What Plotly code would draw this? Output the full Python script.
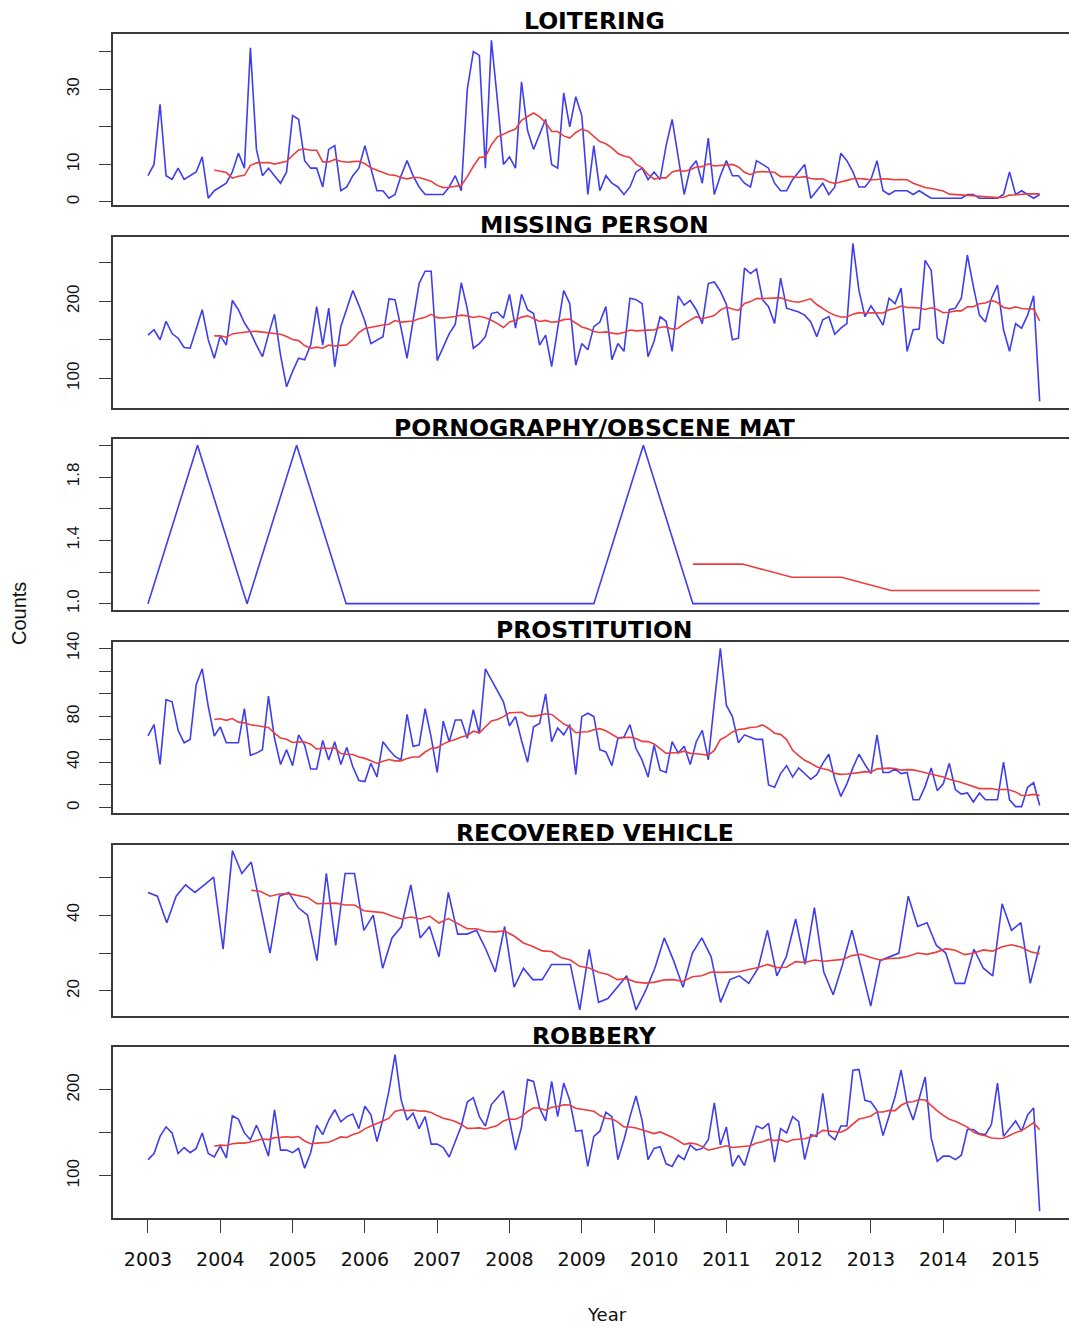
import numpy as np
import pandas as pd
import plotly.graph_objects as go

# Monthly/periodic incident counts per category, Jan 2003 - May 2015
START, END = 2003.0, 2015 + 4 / 12

loitering = [
    7, 10, 26, 7, 6, 9, 6, 7, 8, 12, 1, 3,
    4, 5, 8, 13, 9, 41, 14, 7, 9, 7, 5, 8,
    23, 22, 11, 9, 9, 4, 14, 15, 3, 4, 7, 9,
    15, 9, 3, 3, 1, 2, 7, 11, 7, 4, 2, 2,
    2, 2, 4, 7, 3, 30, 40, 39, 9, 43, 27, 10,
    12, 9, 32, 19, 14, 18, 22, 10, 9, 29, 20, 28,
    23, 2, 15, 3, 7, 5, 4, 2, 4, 8, 9, 6,
    8, 6, 15, 22, 12, 2, 9, 11, 5, 17, 2, 7,
    11, 7, 7, 5, 4, 11, 10, 9, 5, 3, 3, 6,
    8, 10, 1, 3, 5, 2, 4, 13, 11, 8, 4, 4,
    6, 11, 3, 2, 3, 3, 3, 2, 3, 2, 1, 1,
    1, 1, 1, 1, 2, 2, 1, 1, 1, 1, 2, 8,
    2, 3, 2, 1, 2,
]

missing_person = [
    156, 163, 150, 174, 158, 152, 140, 139, 164, 189, 150, 126,
    155, 143, 201, 189, 172, 160, 143, 128, 157, 183, 130, 89,
    109, 126, 124, 143, 193, 143, 191, 115, 167, 190, 214, 195,
    174, 145, 150, 154, 203, 202, 165, 126, 175, 223, 239, 239,
    123, 140, 158, 170, 224, 190, 139, 145, 154, 184, 186, 178,
    209, 165, 209, 189, 184, 143, 156, 115, 165, 214, 197, 117,
    145, 137, 167, 173, 193, 124, 145, 135, 204, 202, 197, 128,
    148, 180, 174, 135, 207, 195, 201, 189, 171, 223, 225, 213,
    196, 150, 152, 243, 236, 242, 202, 193, 171, 230, 191, 189,
    186, 182, 173, 154, 176, 180, 157, 165, 171, 275, 214, 180,
    194, 182, 169, 204, 197, 217, 135, 163, 164, 253, 240, 152,
    145, 189, 191, 204, 260, 219, 182, 173, 204, 221, 163, 135,
    171, 165, 182, 207, 70,
]

pornography = [1, 2, 1, 2, 1, 1, 1, 1, 1, 1, 2, 1, 1, 1, 1, 1, 1, 1, 1]

prostitution = [
    63, 73, 38, 95, 93, 68, 57, 60, 108, 122, 89, 63,
    71, 57, 57, 57, 87, 46, 48, 51, 98, 61, 38, 51,
    37, 64, 55, 34, 34, 59, 42, 58, 38, 53, 36, 24,
    23, 39, 27, 58, 51, 45, 42, 82, 54, 55, 87, 62,
    31, 76, 58, 77, 77, 61, 86, 65, 122, 112, 102, 93,
    72, 80, 59, 40, 71, 74, 100, 58, 70, 64, 73, 29,
    80, 83, 80, 51, 49, 37, 61, 62, 73, 52, 42, 27,
    55, 33, 31, 58, 48, 54, 38, 58, 68, 42, 92, 140,
    90, 80, 57, 64, 62, 60, 60, 20, 18, 30, 37, 27,
    35, 30, 25, 29, 39, 47, 25, 10, 21, 35, 47, 38,
    30, 64, 31, 31, 34, 30, 31, 7, 7, 19, 35, 15,
    21, 39, 16, 12, 13, 5, 13, 7, 7, 7, 40, 7,
    1, 1, 18, 22, 2,
]

recovered_vehicle = [
    46, 45, 38, 45, 48, 46, 48, 50, 31, 57, 51, 54,
    42, 30, 45, 46, 42, 40, 28, 51, 32, 51, 51, 36,
    40, 26, 34, 37, 48, 34, 37, 29, 46, 35, 35, 36,
    31, 25, 37, 21, 26, 23, 23, 27, 27, 27, 15, 31,
    17, 18, 21, 24, 15, 20, 26, 34, 28, 21, 30, 34,
    29, 17, 23, 24, 22, 26, 36, 24, 29, 39, 27, 42,
    25, 19, 27, 36, 26, 16, 28, 29, 30, 45, 37, 38,
    32, 30, 22, 22, 31, 26, 24, 43, 36, 38, 22, 32,
]

robbery = [
    119, 126, 146, 157, 150, 126, 133, 127, 132, 150, 126, 122,
    135, 121, 170, 166, 150, 142, 159, 143, 123, 177, 130, 130,
    127, 132, 109, 127, 159, 148, 165, 177, 163, 169, 172, 155,
    181, 171, 140, 166, 199, 241, 189, 165, 173, 155, 169, 137,
    137, 133, 122, 140, 158, 186, 191, 169, 158, 183, 191, 199,
    165, 130, 157, 212, 210, 179, 164, 210, 169, 208, 188, 152,
    153, 111, 146, 152, 174, 169, 119, 142, 169, 193, 165, 119,
    132, 134, 114, 111, 124, 119, 136, 130, 132, 142, 185, 136,
    157, 111, 124, 112, 136, 158, 155, 161, 116, 155, 150, 169,
    163, 119, 148, 146, 196, 148, 142, 158, 158, 223, 224, 188,
    186, 176, 147, 169, 192, 223, 184, 165, 190, 215, 144, 117,
    123, 123, 119, 124, 154, 154, 149, 148, 160, 208, 146, 155,
    164, 152, 171, 179, 59,
]

titles = ["LOITERING", "MISSING PERSON", "PORNOGRAPHY/OBSCENE MAT",
          "PROSTITUTION", "RECOVERED VEHICLE", "ROBBERY"]
series = [loitering, missing_person, pornography,
          prostitution, recovered_vehicle, robbery]

y_ticks = [
    [0, 10, 20, 30, 40],
    [100, 150, 200, 250],
    [1.0, 1.2, 1.4, 1.6, 1.8, 2.0],
    [0, 20, 40, 60, 80, 100, 120, 140],
    [20, 30, 40, 50],
    [100, 150, 200],
]
y_tick_text = [
    ["0", "10", "", "30", ""],
    ["100", "", "200", ""],
    ["1.0", "", "1.4", "", "1.8", ""],
    ["0", "", "40", "", "80", "", "", "140"],
    ["20", "", "40", ""],
    ["100", "", "200"],
]
year_ticks = list(range(2003, 2016))

# ---- layout geometry (pixels on a 1069 x 1327 page) ----
W, H = 1069, 1327
LEFT_PX = 113
panel_px = [(34, 205), (237, 408), (439, 610), (642, 813), (845, 1016), (1047, 1218)]
title_px = [21, 225, 428, 629.5, 833, 1035.5]
y_ranges = [(-0.8, 44.7), (61.4, 283.4), (0.96, 2.04),
            (-4.6, 145.5), (13.4, 58.5), (51, 250)]
x_range = (2002.516, 2015.739)

BLUE = "rgb(62,62,238)"
RED = "rgb(236,62,62)"
FRAME = "#3a3a3a"
SANS = "Liberation Sans, Arial, Helvetica, sans-serif"
WIDE = "DejaVu Sans, Verdana, sans-serif"

fig = go.Figure()
layout = dict(
    width=W, height=H,
    margin=dict(l=0, r=0, t=0, b=0, autoexpand=False),
    paper_bgcolor="white", plot_bgcolor="white",
    showlegend=False,
    font=dict(family=SANS, color="black"),
)
annotations = []

for k, (name, vals) in enumerate(zip(titles, series)):
    n = k + 1
    xs = np.linspace(START, END, len(vals))
    # trailing 12-point moving average
    avg = pd.Series(vals, dtype=float).rolling(12).mean()
    xname = "x" if n == 1 else f"x{n}"
    yname = "y" if n == 1 else f"y{n}"

    fig.add_trace(go.Scatter(x=xs, y=vals, mode="lines",
                             line=dict(color=BLUE, width=1.6),
                             xaxis=xname, yaxis=yname, hoverinfo="skip"))
    fig.add_trace(go.Scatter(x=xs[11:], y=avg.values[11:], mode="lines",
                             line=dict(color=RED, width=1.6),
                             xaxis=xname, yaxis=yname, hoverinfo="skip"))

    top, bot = panel_px[k]
    dom_y = [1 - bot / H, 1 - top / H]
    is_bottom = (k == len(series) - 1)

    xa = dict(domain=[LEFT_PX / W, 1.0], range=list(x_range), anchor=yname,
              showline=True, mirror=True, linecolor=FRAME, linewidth=1.8,
              showgrid=False, zeroline=False, fixedrange=True)
    if is_bottom:
        xa.update(ticks="outside", ticklen=13, tickwidth=1.3, tickcolor=FRAME,
                  tickvals=year_ticks, ticktext=[str(y) for y in year_ticks],
                  tickfont=dict(size=19, family=WIDE, color="#111"),
                  ticklabelstandoff=10)
    else:
        xa.update(showticklabels=False, ticks="")

    ya = dict(domain=dom_y, range=list(y_ranges[k]), anchor=xname,
              showline=True, mirror=False, linecolor=FRAME, linewidth=1.8,
              showgrid=False, zeroline=False, fixedrange=True,
              ticks="outside", ticklen=12, tickwidth=1.3, tickcolor=FRAME,
              tickvals=y_ticks[k], ticktext=y_tick_text[k], tickangle=-90,
              tickfont=dict(size=17, family=SANS, color="#111"),
              ticklabelstandoff=13)

    layout["xaxis" if n == 1 else f"xaxis{n}"] = xa
    layout["yaxis" if n == 1 else f"yaxis{n}"] = ya

    annotations.append(dict(
        text=f"<b>{name}</b>", xref="paper", yref="paper",
        x=(LEFT_PX + 1076) / 2 / W, y=1 - title_px[k] / H,
        xanchor="center", yanchor="middle", showarrow=False,
        font=dict(size=23.5, family=WIDE, color="black")))

annotations.append(dict(text="Year", xref="paper", yref="paper",
                        x=607 / W, y=1 - 1314 / H, xanchor="center", yanchor="middle",
                        showarrow=False, font=dict(size=18, family=WIDE, color="#111")))
annotations.append(dict(text="Counts", xref="paper", yref="paper",
                        x=19 / W, y=1 - 614 / H, xanchor="center", yanchor="middle",
                        textangle=-90, showarrow=False,
                        font=dict(size=20, family=SANS, color="#111")))

layout["annotations"] = annotations
fig.update_layout(**layout)
fig.write_html("out.html")
